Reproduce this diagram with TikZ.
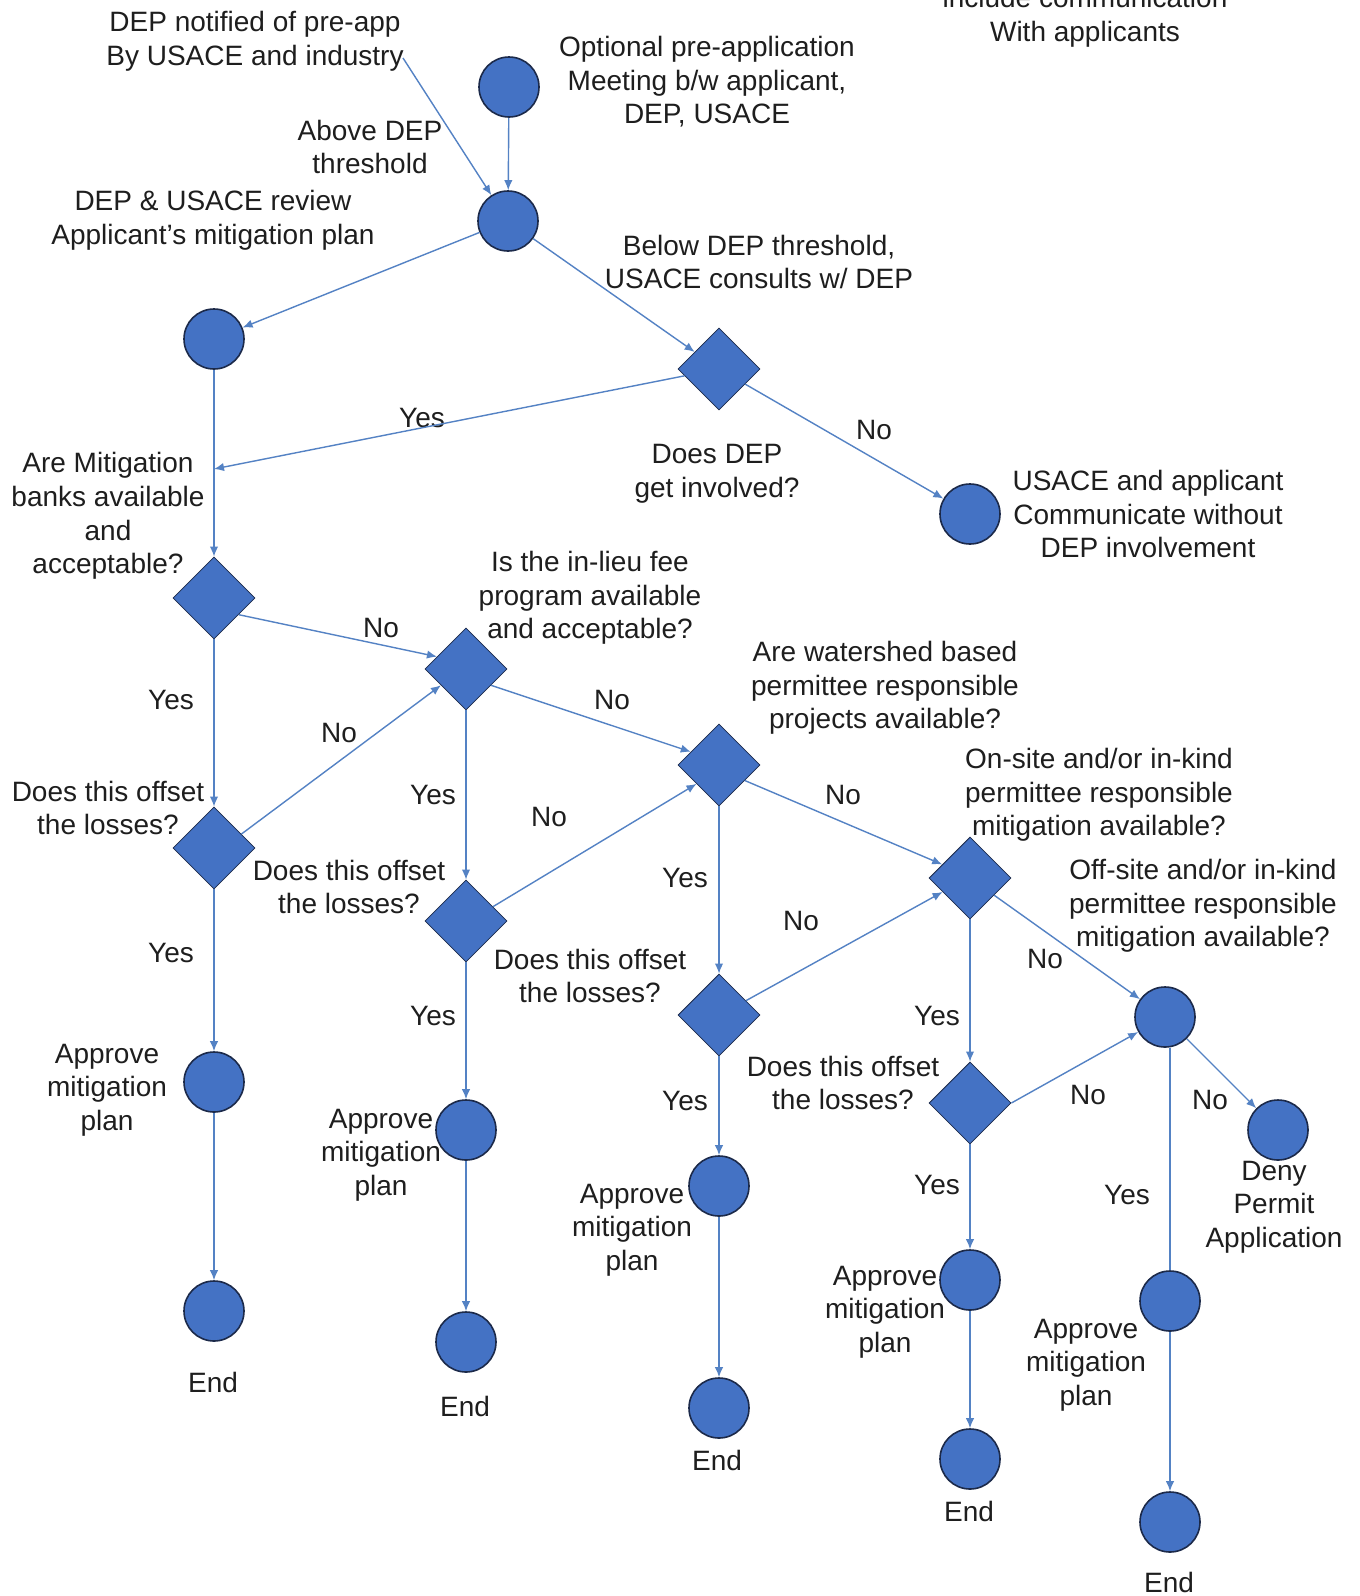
\documentclass[tikz,border=0pt]{standalone}
\usepackage{fontspec}
\setmainfont{Liberation Sans}
\usetikzlibrary{shapes.geometric,arrows.meta}
\definecolor{nodeblue}{RGB}{68,114,196}
\definecolor{nodeedge}{RGB}{28,42,74}
\definecolor{linkblue}{RGB}{84,130,196}
\definecolor{txt}{RGB}{30,30,30}
\begin{document}
\begin{tikzpicture}[x=0.5pt,y=-0.5pt,
  circ/.style={circle, fill=nodeblue, draw=nodeedge, line width=0.8pt, minimum size=30pt, inner sep=0pt},
  dia/.style={diamond, fill=nodeblue, draw=nodeedge, line width=0.4pt, minimum width=41pt, minimum height=41pt, inner sep=0pt},
  lbl/.style={text=txt, align=center, font=\fontsize{14}{16.8}\selectfont, inner sep=0pt},
  arr/.style={draw=linkblue, line width=0.7pt, -{Latex[length=5pt,width=4.2pt]}},
  plainline/.style={draw=linkblue, line width=0.7pt}]
\useasboundingbox (0,0) rectangle (1360,1596);
\fill[white] (0,0) rectangle (1360,1596);

% ---- shapes ----
\node[circ] (C1) at (509,87) {};
\node[circ] (C2) at (508,221) {};
\node[circ] (C3) at (214,339) {};
\node[dia]  (D1) at (719,369) {};
\node[circ] (C4) at (970,514) {};
\node[dia]  (D2) at (214,598) {};
\node[dia]  (D3) at (466,669) {};
\node[dia]  (D4) at (214,848) {};
\node[dia]  (D5) at (719,765) {};
\node[dia]  (D6) at (466,921) {};
\node[dia]  (D7) at (970,878) {};
\node[dia]  (D8) at (719,1015) {};
\node[circ] (C5) at (1165,1017) {};
\node[dia]  (D9) at (970,1103) {};
\node[circ] (C6) at (1278,1130) {};
\node[circ] (A1) at (214,1082) {};
\node[circ] (A2) at (466,1130) {};
\node[circ] (A3) at (719,1186) {};
\node[circ] (A4) at (970,1280) {};
\node[circ] (A5) at (1170,1301) {};
\node[circ] (E1) at (214,1311) {};
\node[circ] (E2) at (466,1342) {};
\node[circ] (E3) at (719,1408) {};
\node[circ] (E4) at (970,1459) {};
\node[circ] (E5) at (1170,1522) {};

% ---- texts ----
\node[lbl] (tdep) at (255,41) {DEP notified of pre-app\\By USACE and industry};
\node[lbl] (topt) at (707,82) {Optional pre-application\\Meeting b/w applicant,\\DEP, USACE};
\node[lbl] (tinc) at (1085,17) {include communication\\With applicants};
\node[lbl] (tabove) at (370,147) {Above DEP\\threshold};
\node[lbl] (treview) at (213,220) {DEP \& USACE review\\Applicant’s mitigation plan};
\node[lbl] (tbelow) at (759,262) {Below DEP threshold,\\USACE consults w/ DEP};
\node[lbl] (ly1) at (422,418) {Yes};
\node[lbl] (tdoes) at (717,474) {Does DEP\\get involved?};
\node[lbl] (ln1) at (874,430) {No};
\node[lbl] (tusace) at (1148,514) {USACE and applicant\\Communicate without\\DEP involvement};
\node[lbl] (tbanks) at (108,516) {Are Mitigation\\banks available\\and\\acceptable?};
\node[lbl] (tlieu) at (590,598) {Is the in-lieu fee\\program available\\and acceptable?};
\node[lbl] (ln2) at (381,628) {No};
\node[lbl] (ly2) at (171,700) {Yes};
\node[lbl] (ln3) at (339,733) {No};
\node[lbl] (ln4) at (612,700) {No};
\node[lbl] (twater) at (885,688) {Are watershed based\\permittee responsible\\projects available?};
\node[lbl] (ly3) at (433,795) {Yes};
\node[lbl] (ln5) at (549,817) {No};
\node[lbl] (ln6) at (843,795) {No};
\node[lbl] (tonsite) at (1099,795) {On-site and/or in-kind\\permittee responsible\\mitigation available?};
\node[lbl] (toff1) at (108,808) {Does this offset\\the losses?};
\node[lbl] (toff2) at (349,887) {Does this offset\\the losses?};
\node[lbl] (ly4) at (685,878) {Yes};
\node[lbl] (ln7) at (801,921) {No};
\node[lbl] (toffsite) at (1203,906) {Off-site and/or in-kind\\permittee responsible\\mitigation available?};
\node[lbl] (ly5) at (171,953) {Yes};
\node[lbl] (toff3) at (590,976) {Does this offset\\the losses?};
\node[lbl] (ln8) at (1045,959) {No};
\node[lbl] (ly6) at (433,1016) {Yes};
\node[lbl] (ly7) at (937,1016) {Yes};
\node[lbl] (tapp1) at (107,1090) {Approve\\mitigation\\plan};
\node[lbl] (toff4) at (843,1083) {Does this offset\\the losses?};
\node[lbl] (ln9) at (1088,1095) {No};
\node[lbl] (ln10) at (1210,1100) {No};
\node[lbl] (ly8) at (685,1101) {Yes};
\node[lbl] (tapp2) at (381,1155) {Approve\\mitigation\\plan};
\node[lbl] (tdeny) at (1274,1207) {Deny\\Permit\\Application};
\node[lbl] (ly9) at (937,1185) {Yes};
\node[lbl] (ly10) at (1127,1195) {Yes};
\node[lbl] (tapp3) at (632,1230) {Approve\\mitigation\\plan};
\node[lbl] (tapp4) at (885,1312) {Approve\\mitigation\\plan};
\node[lbl] (tapp5) at (1086,1365) {Approve\\mitigation\\plan};
\node[lbl] (tend1) at (213,1382) {End};
\node[lbl] (tend2) at (465,1406) {End};
\node[lbl] (tend3) at (717,1460) {End};
\node[lbl] (tend4) at (969,1511) {End};
\node[lbl] (tend5) at (1169,1582) {End};

% ---- connectors ----
\coordinate (s0) at (403,58);
\coordinate (j1) at (214,469);
\draw[arr] (s0) -- (C2);
\draw[arr] (C1) -- (C2);
\draw[arr] (C2) -- (C3);
\draw[arr] (C2) -- (D1);
\draw[arr] (D1) -- (j1);
\draw[arr] (D1) -- (C4);
\draw[arr] (C3) -- (D2.north);
\draw[arr] (D2.-34) -- (D3.157);
\draw[arr] (D2.south) -- (D4.north);
\draw[arr] (D4.27) -- (D3.-147);
\draw[arr] (D3.-33) -- (D5.155);
\draw[arr] (D3.south) -- (D6.north);
\draw[arr] (D6.28) -- (D5.-140);
\draw[arr] (D5.-31) -- (D7.154);
\draw[arr] (D5.south) -- (D8.north);
\draw[arr] (D8.28) -- (D7.-153);
\draw[arr] (D7) -- (C5);
\draw[arr] (D7.south) -- (D9.north);
\draw[arr] (D9.east) -- (C5);
\draw[arr] (C5) -- (C6);
\draw[plainline] (C5.south -| A5.north) -- (A5.north);
\draw[arr] (D4.south) -- (A1.north);
\draw[arr] (A1) -- (E1);
\draw[arr] (D6.south) -- (A2.north);
\draw[arr] (A2) -- (E2);
\draw[arr] (D8.south) -- (A3.north);
\draw[arr] (A3) -- (E3);
\draw[arr] (D9.south) -- (A4.north);
\draw[arr] (A4) -- (E4);
\draw[arr] (A5) -- (E5);
\end{tikzpicture}
\end{document}
